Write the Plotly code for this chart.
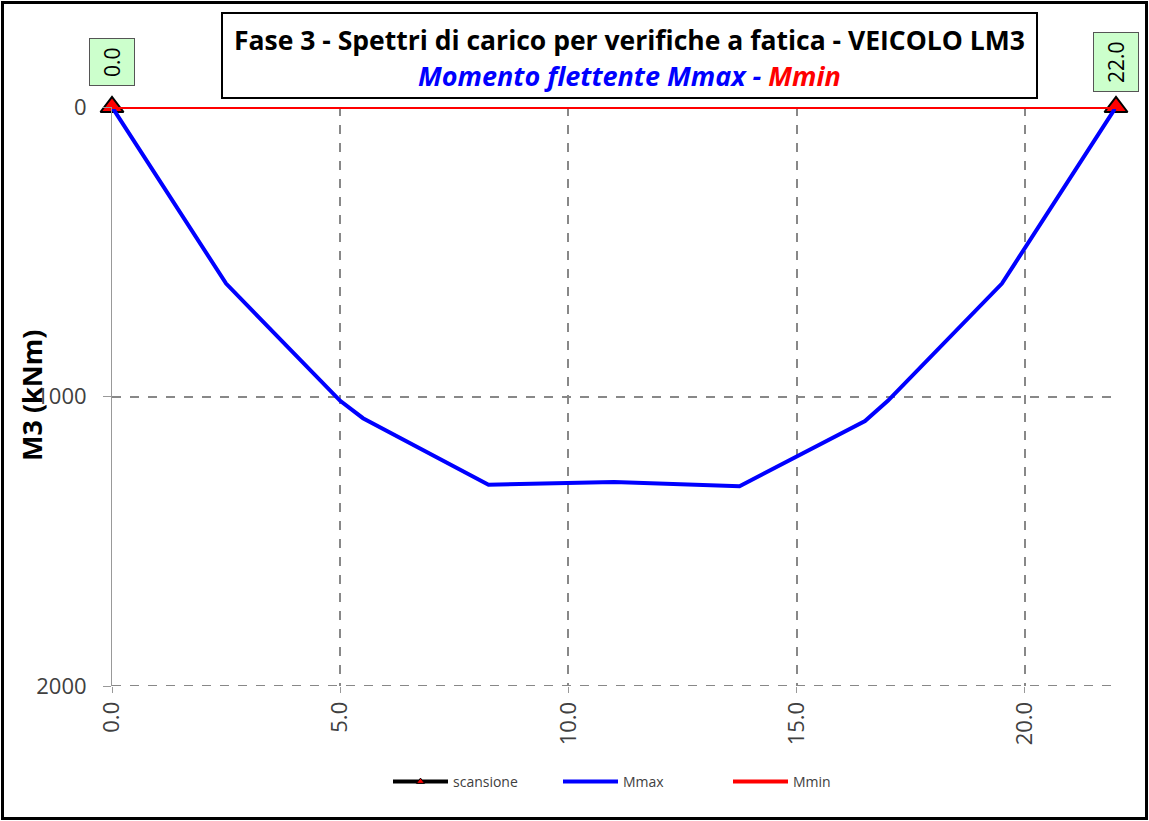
import plotly.graph_objects as go

# Section positions along the span (m) and bending moment envelopes (kNm)
x_pos = [0.0, 2.5, 5.0, 5.5, 8.25, 11.0, 13.75, 16.5, 17.0, 19.5, 22.0]
m_max = [0, 610, 1015, 1075, 1305, 1295, 1310, 1085, 1015, 610, 0]
m_min = [0, 0, 0, 0, 0, 0, 0, 0, 0, 0, 0]

# Scan stations (supports)
scan_x = [0.0, 22.0]
scan_y = [0, 0]
scan_labels = ["0.0", "22.0"]

x_ticks = [0, 5, 10, 15, 20]
x_tick_text = ["0.0", "5.0", "10.0", "15.0", "20.0"]
y_ticks = [0, 1000, 2000]
y_tick_text = ["0", "1000", "2000"]

W, H = 1149, 821
ML, MR, MT, MB = 112, 33, 107, 135
PW, PH = W - ML - MR, H - MT - MB


def px(x):
    return (x - ML) / PW


def py(y):
    return (H - MB - y) / PH


FONT = "Open Sans"

fig = go.Figure()

# support markers (legend entry drawn separately with a small symbol)
fig.add_trace(go.Scatter(
    x=scan_x, y=scan_y, name="scansione", mode="lines+markers", showlegend=False,
    line=dict(color="black", width=4),
    marker=dict(symbol="triangle-up", size=20, color="#ff0000",
                line=dict(color="black", width=2)),
    cliponaxis=False,
))
fig.add_trace(go.Scatter(
    x=[None], y=[None], name="scansione", mode="lines+markers",
    line=dict(color="black", width=4),
    marker=dict(symbol="triangle-up", size=7, color="#ff0000",
                line=dict(color="black", width=1)),
))
fig.add_trace(go.Scatter(
    x=x_pos, y=m_max, name="Mmax", mode="lines",
    line=dict(color="#0000ff", width=4), cliponaxis=False,
))
fig.add_trace(go.Scatter(
    x=x_pos, y=m_min, name="Mmin", mode="lines",
    line=dict(color="#ff0000", width=4), cliponaxis=False,
))

annotations = []
# Station labels above the supports
for sx, sl in zip(scan_x, scan_labels):
    annotations.append(dict(
        x=sx, y=0, xref="x", yref="y", text=sl, showarrow=False,
        textangle=-90, yshift=45, bgcolor="#ccffcc", bordercolor="#555555",
        borderwidth=1, borderpad=8, font=dict(family=FONT, size=21, color="black"),
    ))

# Title box text
annotations.append(dict(
    x=px(629.5), y=py(40), xref="paper", yref="paper", showarrow=False,
    text="<b>Fase 3 - Spettri di carico per verifiche a fatica - VEICOLO LM3</b>",
    font=dict(family=FONT, size=26.5, color="black"), xanchor="center", yanchor="middle",
))
annotations.append(dict(
    x=px(629.5), y=py(75), xref="paper", yref="paper", showarrow=False,
    text="<b><i><span style='color:#0000ff'>Momento flettente Mmax - </span>"
         "<span style='color:#ff0000'>Mmin</span></i></b>",
    font=dict(family=FONT, size=27, color="#0000ff"), xanchor="center", yanchor="middle",
))
# Y axis title
annotations.append(dict(
    x=px(31), y=py(396), xref="paper", yref="paper", showarrow=False,
    text="<b>M3 (kNm)</b>", textangle=-90,
    font=dict(family=FONT, size=27, color="black"), xanchor="center", yanchor="middle",
))

shapes = [
    # title box
    dict(type="rect", xref="paper", yref="paper",
         x0=px(222), x1=px(1037), y0=py(98), y1=py(13),
         line=dict(color="black", width=2), fillcolor="white", layer="above"),
    # outer frame
    dict(type="rect", xref="paper", yref="paper",
         x0=px(2.5), x1=px(1146.5), y0=py(818.5), y1=py(2.5),
         line=dict(color="black", width=3)),
    # bottom gridline at the axis limit
    dict(type="line", xref="x", yref="y", x0=0, x1=22, y0=y_ticks[-1], y1=y_ticks[-1],
         line=dict(color="#888888", width=2, dash="dash"), layer="below"),
]

fig.update_layout(
    width=W, height=H,
    margin=dict(l=ML, r=MR, t=MT, b=MB),
    paper_bgcolor="white", plot_bgcolor="white",
    font=dict(family=FONT, color="#404040"),
    showlegend=True,
    legend=dict(orientation="h", x=px(388), y=py(782), xanchor="left", yanchor="middle",
                font=dict(family=FONT, size=14, color="#404040"), entrywidth=100,
                itemwidth=55),
    annotations=annotations,
    shapes=shapes,
)

fig.update_xaxes(
    range=[0, 22], tickvals=x_ticks, ticktext=x_tick_text, tickangle=-90,
    showgrid=True, gridcolor="#888888", griddash="dash", gridwidth=2,
    zeroline=False, showline=False, ticks="outside", ticklen=6, tickcolor="#999999",
    tickfont=dict(family=FONT, size=22, color="#404040"),
)
fig.update_yaxes(
    range=[2000, 0], tickvals=y_ticks, ticktext=y_tick_text,
    showgrid=True, gridcolor="#888888", griddash="dash", gridwidth=2,
    zeroline=False, showline=True, linecolor="#999999", linewidth=1,
    ticks="outside", ticklen=8, tickcolor="#999999", ticklabelstandoff=12,
    tickfont=dict(family=FONT, size=22, color="#404040"),
)

fig.write_html("out.html")
